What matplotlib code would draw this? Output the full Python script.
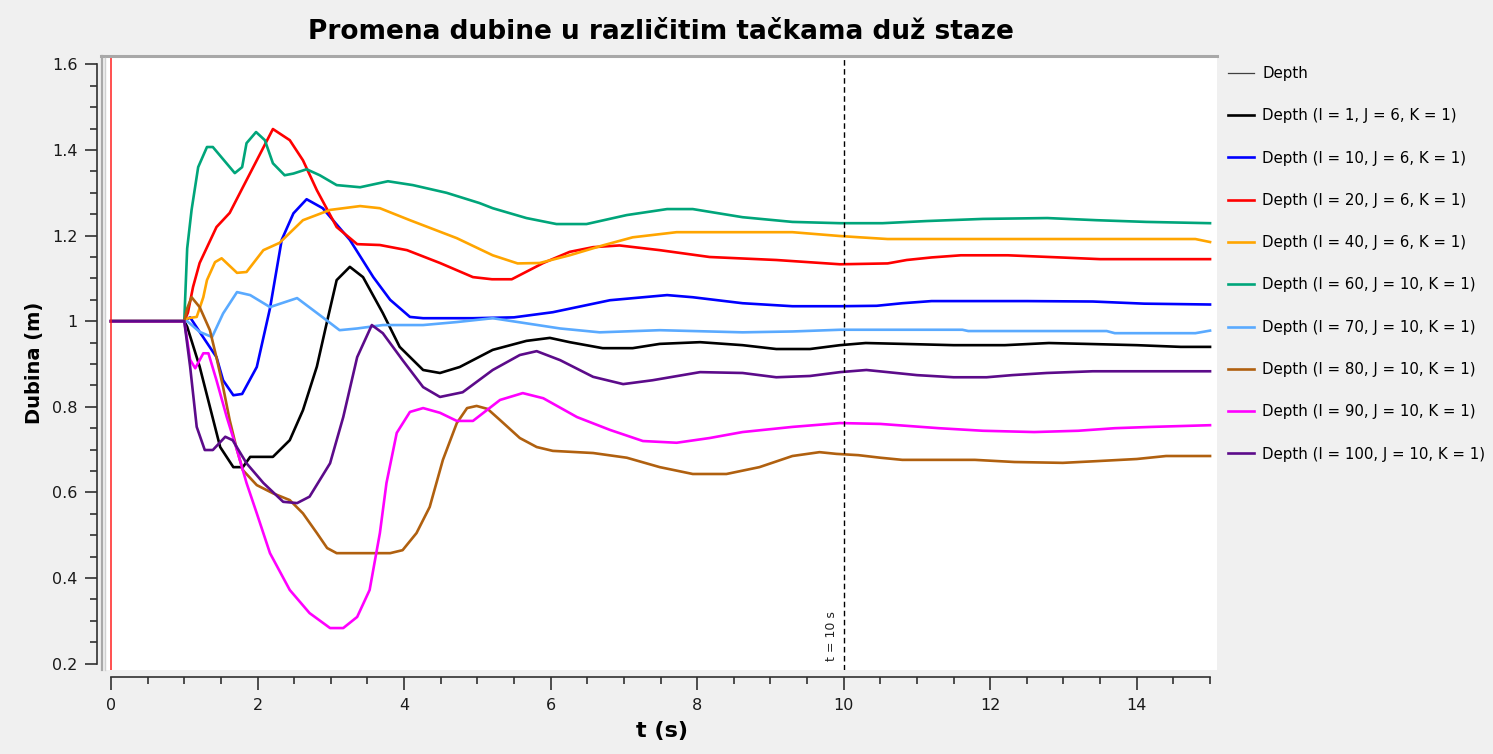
import matplotlib
matplotlib.use("Agg")
import matplotlib.pyplot as plt
from matplotlib.lines import Line2D
from matplotlib.ticker import MultipleLocator

plt.rcParams['font.family'] = ['DejaVu Sans']

# ---------------- data ----------------
labels = ["Depth (I = 1, J = 6, K = 1)", "Depth (I = 10, J = 6, K = 1)",
          "Depth (I = 20, J = 6, K = 1)", "Depth (I = 40, J = 6, K = 1)",
          "Depth (I = 60, J = 10, K = 1)", "Depth (I = 70, J = 10, K = 1)",
          "Depth (I = 80, J = 10, K = 1)", "Depth (I = 90, J = 10, K = 1)",
          "Depth (I = 100, J = 10, K = 1)"]
colors = ["#000000", "#0000ff", "#ff0000", "#ffa500", "#00a57a",
          "#5aaaff", "#b0600f", "#ff00ff", "#5c0b8a"]

black_t = [0, 1.0, 1.04, 1.21, 1.35, 1.49, 1.67, 1.8, 1.9, 2.21, 2.44, 2.62, 2.81, 2.95, 3.08, 3.26, 3.44,
           3.71, 3.94, 4.26, 4.49, 4.76, 5.21, 5.67, 5.99, 6.26, 6.71, 7.12, 7.49, 8.04, 8.62, 9.08, 9.54,
           9.95, 10.3, 10.8, 11.5, 12.2, 12.8, 13.3, 14.0, 14.6, 15.0]
black_v = [1.0, 1.0, 0.987, 0.894, 0.8, 0.706, 0.659, 0.659, 0.683, 0.683, 0.722, 0.792, 0.894, 1.0, 1.096,
           1.127, 1.103, 1.019, 0.94, 0.886, 0.879, 0.893, 0.933, 0.954, 0.961, 0.951, 0.937, 0.937, 0.947,
           0.951, 0.944, 0.935, 0.935, 0.944, 0.949, 0.947, 0.944, 0.944, 0.949, 0.947, 0.944, 0.94, 0.94]

blue_t = [0, 1.0, 1.08, 1.21, 1.44, 1.53, 1.67, 1.79, 1.99, 2.17, 2.33, 2.49, 2.67, 2.89, 3.26, 3.58, 3.81,
          4.08, 4.26, 4.94, 5.5, 6.03, 6.81, 7.59, 7.94, 8.62, 9.3, 9.95, 10.45, 10.8, 11.2, 12.5, 13.4,
          14.1, 15.0]
blue_v = [1.0, 1.0, 1.009, 0.975, 0.916, 0.862, 0.827, 0.83, 0.893, 1.03, 1.19, 1.252, 1.285, 1.264, 1.19,
          1.103, 1.05, 1.01, 1.007, 1.007, 1.009, 1.021, 1.049, 1.061, 1.056, 1.042, 1.035, 1.035, 1.036,
          1.042, 1.047, 1.047, 1.046, 1.041, 1.039]

red_t = [0, 1.0, 1.05, 1.12, 1.21, 1.44, 1.62, 1.8, 1.99, 2.21, 2.44, 2.62, 2.81, 3.08, 3.36, 3.67, 4.04,
         4.49, 4.94, 5.2, 5.47, 5.9, 6.26, 6.58, 6.94, 7.49, 8.17, 9.08, 9.95, 10.6, 10.86, 11.2, 11.6,
         12.24, 12.95, 13.5, 15.0]
red_v = [1.0, 1.0, 1.02, 1.08, 1.136, 1.22, 1.253, 1.313, 1.376, 1.449, 1.423, 1.376, 1.306, 1.22, 1.18,
         1.178, 1.166, 1.136, 1.103, 1.098, 1.098, 1.136, 1.162, 1.173, 1.177, 1.166, 1.15, 1.143, 1.133,
         1.135, 1.143, 1.149, 1.154, 1.154, 1.149, 1.145, 1.145]

orange_t = [0, 1.0, 1.05, 1.17, 1.26, 1.31, 1.42, 1.51, 1.72, 1.85, 2.08, 2.3, 2.62, 2.99, 3.4, 3.67, 4.08,
            4.72, 5.21, 5.55, 5.85, 6.26, 6.71, 7.12, 7.72, 9.3, 9.95, 10.22, 10.6, 14.8, 15.0]
orange_v = [1.0, 1.0, 1.007, 1.01, 1.056, 1.096, 1.138, 1.147, 1.113, 1.115, 1.166, 1.183, 1.236, 1.26,
            1.269, 1.264, 1.236, 1.194, 1.154, 1.135, 1.136, 1.154, 1.177, 1.196, 1.208, 1.208, 1.199,
            1.196, 1.192, 1.192, 1.185]

green_t = [0, 1.0, 1.04, 1.1, 1.19, 1.31, 1.39, 1.69, 1.79, 1.85, 1.98, 2.1, 2.21, 2.37, 2.49, 2.67, 2.85,
           3.08, 3.4, 3.78, 4.12, 4.58, 5.03, 5.21, 5.67, 6.08, 6.49, 7.04, 7.59, 7.94, 8.62, 9.3, 9.95,
           10.53, 11.13, 11.9, 12.78, 13.45, 14.13, 15.0]
green_v = [1.0, 1.0, 1.17, 1.26, 1.36, 1.407, 1.407, 1.346, 1.36, 1.416, 1.442, 1.423, 1.369, 1.341, 1.345,
           1.355, 1.341, 1.318, 1.313, 1.327, 1.318, 1.3, 1.276, 1.264, 1.241, 1.227, 1.227, 1.248, 1.262,
           1.262, 1.243, 1.232, 1.229, 1.229, 1.234, 1.239, 1.241, 1.236, 1.232, 1.229]

lightblue_t = [0, 1.0, 1.04, 1.21, 1.38, 1.53, 1.72, 1.9, 2.17, 2.54, 2.89, 3.12, 3.36, 3.71, 4.26, 4.72,
               5.21, 5.67, 6.13, 6.67, 7.49, 8.62, 9.3, 9.95, 11.62, 11.7, 13.59, 13.7, 14.8, 15.0]
lightblue_v = [1.0, 1.0, 1.0, 0.975, 0.963, 1.018, 1.068, 1.061, 1.033, 1.054, 1.009, 0.979, 0.983, 0.991,
               0.991, 0.998, 1.007, 0.995, 0.983, 0.974, 0.979, 0.974, 0.976, 0.98, 0.98, 0.977, 0.977,
               0.972, 0.972, 0.978]

brown_t = [0, 1.0, 1.04, 1.1, 1.21, 1.35, 1.44, 1.53, 1.62, 1.72, 1.8, 1.99, 2.21, 2.44, 2.62, 2.81, 2.95,
           3.08, 3.81, 3.98, 4.17, 4.35, 4.53, 4.72, 4.86, 4.99, 5.14, 5.31, 5.58, 5.81, 6.03, 6.58, 7.04,
           7.49, 7.94, 8.4, 8.85, 9.3, 9.67, 9.9, 10.2, 10.5, 10.8, 11.79, 12.33, 12.99, 13.45, 14.0,
           14.4, 15.0]
brown_v = [1.0, 1.0, 1.03, 1.056, 1.033, 0.979, 0.915, 0.846, 0.769, 0.699, 0.652, 0.617, 0.598, 0.582,
           0.551, 0.505, 0.47, 0.458, 0.458, 0.465, 0.505, 0.566, 0.676, 0.762, 0.797, 0.802, 0.795, 0.769,
           0.727, 0.706, 0.697, 0.692, 0.681, 0.659, 0.643, 0.643, 0.659, 0.685, 0.694, 0.69, 0.687, 0.681,
           0.676, 0.676, 0.671, 0.669, 0.673, 0.678, 0.685, 0.685]

magenta_t = [0, 1.0, 1.04, 1.08, 1.15, 1.26, 1.33, 1.44, 1.58, 1.72, 1.85, 1.99, 2.17, 2.44, 2.71, 2.99,
             3.17, 3.36, 3.53, 3.67, 3.76, 3.9, 4.08, 4.26, 4.49, 4.72, 4.94, 5.31, 5.62, 5.9, 6.36, 6.81,
             7.26, 7.72, 8.17, 8.62, 9.3, 9.95, 10.5, 10.9, 11.3, 11.9, 12.6, 13.2, 13.7, 14.2, 15.0]
magenta_v = [1.0, 1.0, 0.956, 0.91, 0.89, 0.925, 0.925, 0.862, 0.776, 0.699, 0.622, 0.551, 0.458, 0.372,
             0.318, 0.283, 0.283, 0.309, 0.372, 0.505, 0.622, 0.739, 0.788, 0.797, 0.786, 0.767, 0.767,
             0.816, 0.832, 0.82, 0.776, 0.746, 0.72, 0.716, 0.727, 0.741, 0.753, 0.762, 0.76, 0.755, 0.75,
             0.744, 0.741, 0.744, 0.75, 0.753, 0.757]

purple_t = [0, 1.0, 1.08, 1.17, 1.28, 1.39, 1.56, 1.66, 1.85, 2.08, 2.35, 2.54, 2.71, 2.99, 3.17, 3.36,
            3.56, 3.71, 3.98, 4.26, 4.49, 4.8, 5.21, 5.58, 5.81, 6.13, 6.58, 6.99, 7.39, 8.04, 8.62, 9.08,
            9.54, 9.95, 10.31, 10.6, 11.0, 11.5, 11.95, 12.3, 12.77, 13.4, 15.0]
purple_v = [1.0, 1.0, 0.894, 0.753, 0.699, 0.699, 0.73, 0.722, 0.668, 0.622, 0.578, 0.575, 0.59, 0.668,
            0.776, 0.916, 0.991, 0.972, 0.909, 0.846, 0.823, 0.834, 0.886, 0.921, 0.93, 0.909, 0.87, 0.853,
            0.862, 0.881, 0.879, 0.869, 0.872, 0.881, 0.886, 0.881, 0.874, 0.869, 0.869, 0.874, 0.879,
            0.883, 0.883]

series_t = [black_t, blue_t, red_t, orange_t, green_t, lightblue_t, brown_t, magenta_t, purple_t]
series_v = [black_v, blue_v, red_v, orange_v, green_v, lightblue_v, brown_v, magenta_v, purple_v]

marker_time = 10
marker_label = "t = 10 s"
title = "Promena dubine u različitim tačkama duž staze"

# ---------------- figure ----------------
W, H = 1493, 754
fig = plt.figure(figsize=(W / 100, H / 100), dpi=100, facecolor="#f0f0f0")

def fx(px):
    return px / W

def fy(py):
    return 1 - py / H

ax = fig.add_axes([fx(106), fy(670), fx(1217) - fx(106), fy(55) - fy(670)])
ax.set_facecolor("white")
ax.set_xlim(-0.068, 15.095)
ax.set_ylim(0.185, 1.622)

lw = 1.9
ax.plot([], [], color="#404040", lw=0.9, label="Depth")
for t, v, c, lab in zip(series_t, series_v, colors, labels):
    ax.plot(t, v, color=c, lw=lw, label=lab, solid_joinstyle="round")

ax.axvline(0, color="#ff2020", lw=1.1)
ax.axvline(marker_time, color="black", lw=1.0, ls=(0, (4, 2.5)))
ax.text(marker_time - 0.08, 0.205, marker_label, rotation=90, ha="right", va="bottom",
        fontsize=9, color="#222222")

for s in ["top", "right"]:
    ax.spines[s].set_visible(False)
ax.spines["left"].set_position(("outward", 6.5))
ax.spines["bottom"].set_position(("outward", 5))
ax.spines["left"].set_bounds(0.2, 1.6)
ax.spines["bottom"].set_bounds(0, 15)
for s in ["left", "bottom"]:
    ax.spines[s].set_color("#303030")
    ax.spines[s].set_linewidth(1.2)

ax.set_yticks([0.2, 0.4, 0.6, 0.8, 1.0, 1.2, 1.4, 1.6])
ax.set_yticklabels(["0.2", "0.4", "0.6", "0.8", "1", "1.2", "1.4", "1.6"])
ax.set_xticks([0, 2, 4, 6, 8, 10, 12, 14])
ax.yaxis.set_minor_locator(MultipleLocator(0.05))
ax.xaxis.set_minor_locator(MultipleLocator(0.5))
ax.tick_params(axis="both", which="major", length=9, width=1.2, color="#303030",
               labelsize=11.5, labelcolor="#1a1a1a")
ax.tick_params(axis="both", which="minor", length=5, width=1.2, color="#303030")
ax.tick_params(axis="y", which="major", pad=5)
ax.tick_params(axis="x", which="major", pad=6)

ax.set_xlabel("t (s)", fontsize=16, fontweight="bold", labelpad=6)
ax.set_ylabel("Dubina (m)", fontsize=14, fontweight="bold", labelpad=6)

fig.text(fx(661), fy(32), title, ha="center", va="center", fontsize=19, fontweight="bold")

# gray frame lines around the plot area (top and left)
fig.add_artist(Line2D([fx(101), fx(1217)], [fy(56), fy(56)], color="#a8a8a8", lw=2.2))
fig.add_artist(Line2D([fx(102), fx(102)], [fy(56), fy(670)], color="#a8a8a8", lw=1.6))
fig.add_artist(Line2D([fx(105), fx(105)], [fy(58), fy(670)], color="#d0d0d0", lw=1.0))

leg = ax.legend(loc="upper left", bbox_to_anchor=(fx(1222), fy(60)), bbox_transform=fig.transFigure,
                frameon=False, fontsize=10.8, handlelength=1.7, handletextpad=0.6,
                labelspacing=1.82, borderaxespad=0)

fig.savefig("out.png", dpi=100, facecolor=fig.get_facecolor())
